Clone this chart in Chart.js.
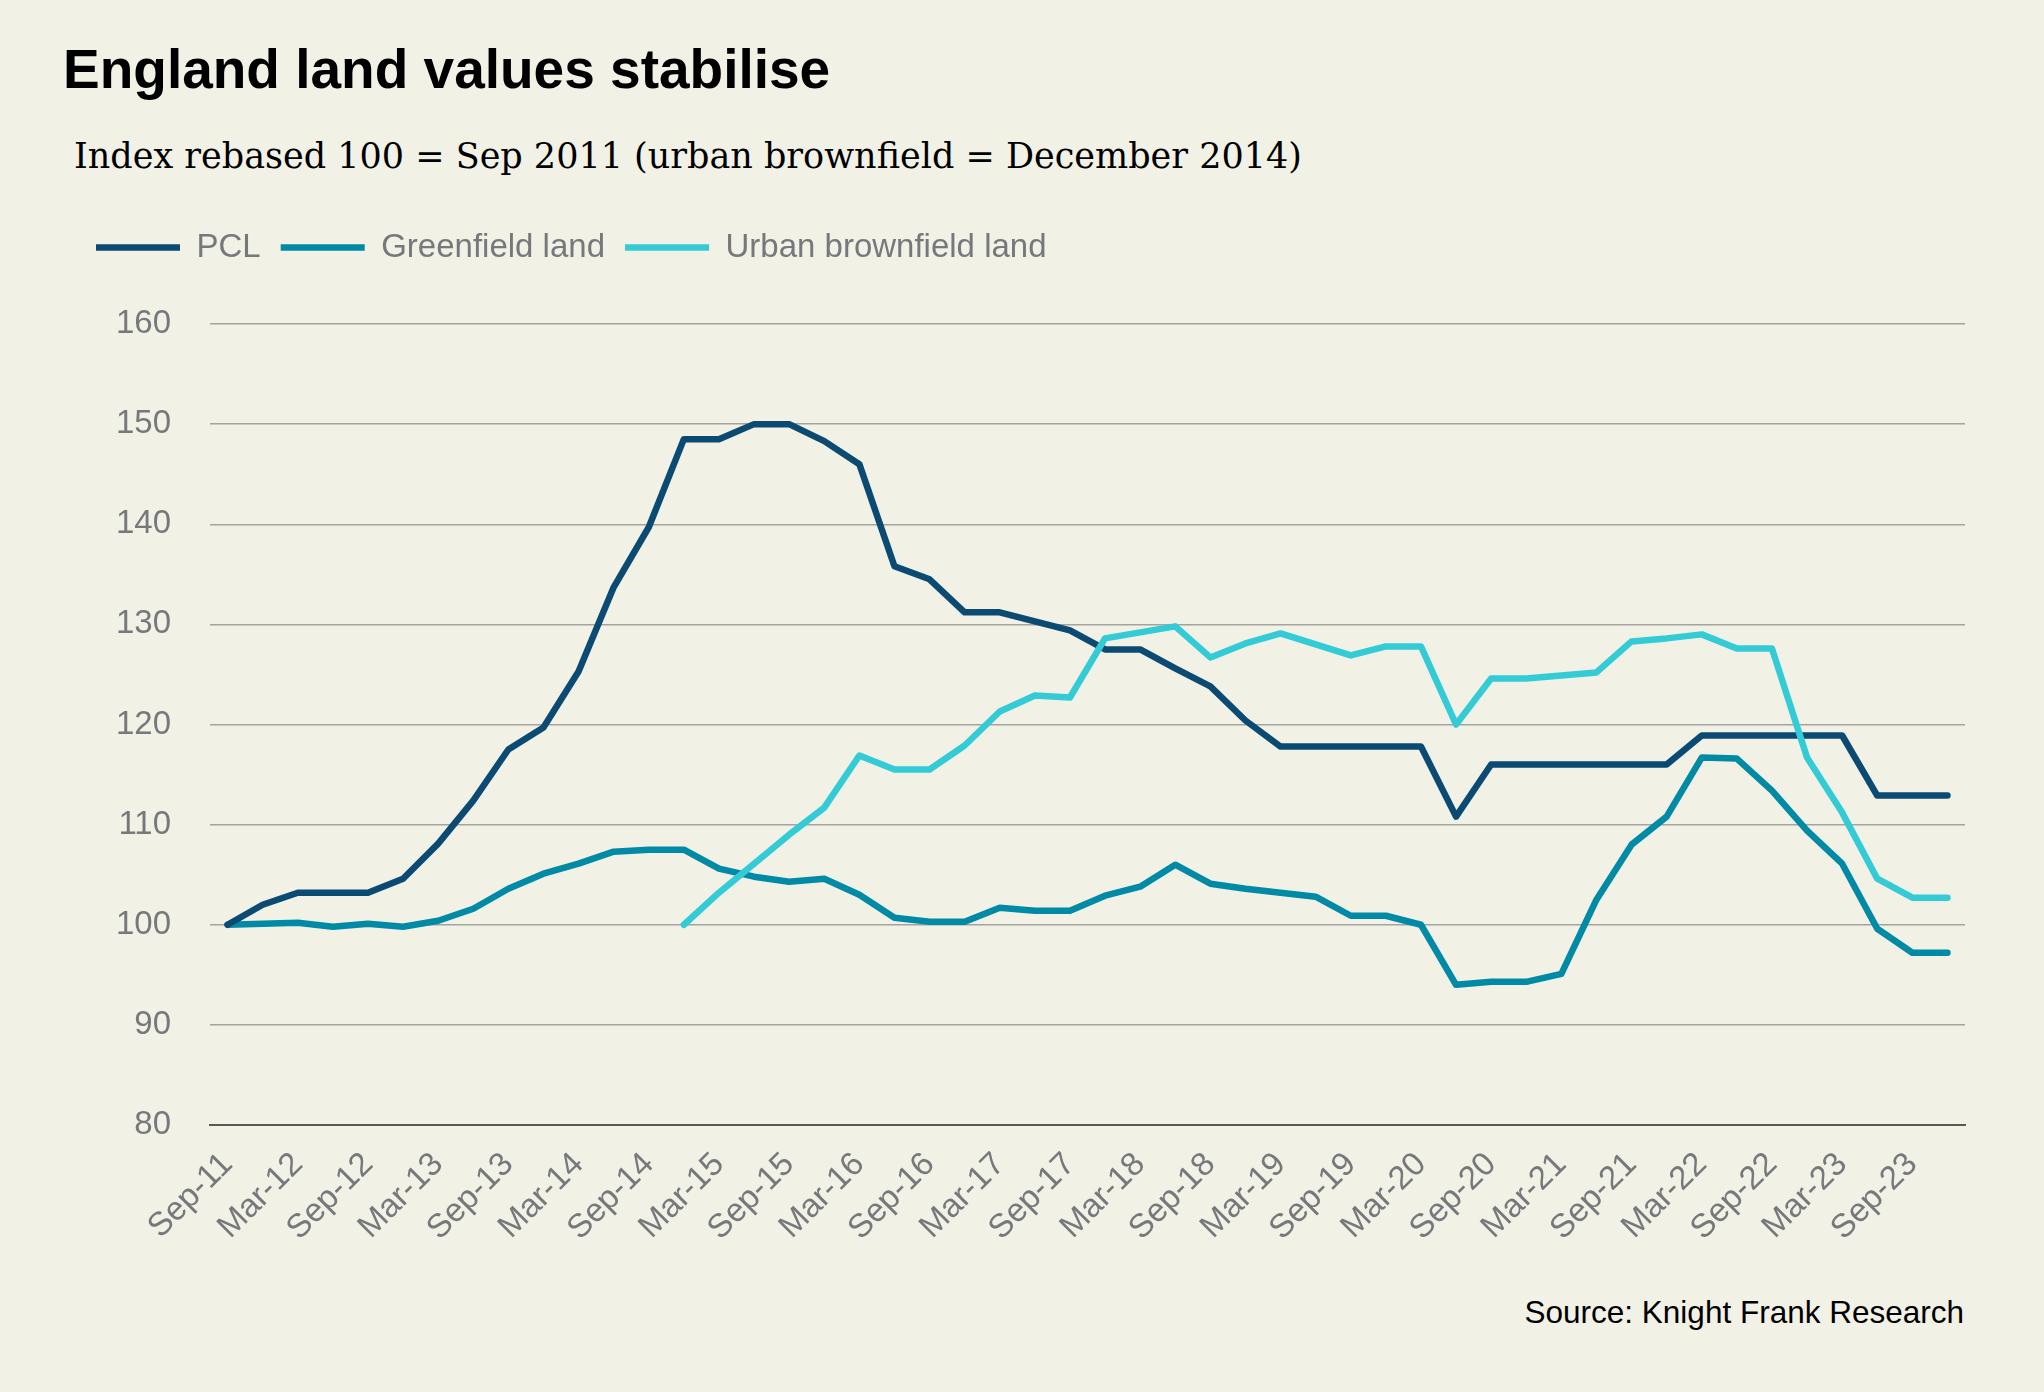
<!DOCTYPE html>
<html>
<head>
<meta charset="utf-8">
<script src="https://cdn.jsdelivr.net/npm/chart.js@4.4.1/dist/chart.umd.min.js"></script>
<style>
  html, body { margin: 0; padding: 0; background: #F1F1E6; }
  body { width: 2044px; height: 1392px; position: relative; overflow: hidden; }
  #c { position: absolute; left: 0; top: 0; }
  .txt { position: absolute; white-space: nowrap; line-height: 1; }
  #title { left: 63px; top: 37px; font: bold 55px "Liberation Sans", Arial, sans-serif; color: #000; }
  #subtitle { left: 74px; top: 139px; font-family: "DejaVu Serif", serif; font-size: 35px; color: #000; }
  #source { right: 80px; top: 1294px; font: 31.5px "Liberation Sans", Arial, sans-serif; color: #000; }
</style>
</head>
<body>
<div id="title" class="txt">England land values stabilise</div>
<div id="subtitle" class="txt">Index rebased 100 = Sep 2011 (urban brownfield = December 2014)</div>
<div id="source" class="txt">Source: Knight Frank Research</div>
<canvas id="c" width="2044" height="1392"></canvas>
<script>
// Quarterly labels, Sep-11 .. Dec-23
const quarters = [
  "Sep-11","Dec-11","Mar-12","Jun-12","Sep-12","Dec-12","Mar-13","Jun-13","Sep-13","Dec-13",
  "Mar-14","Jun-14","Sep-14","Dec-14","Mar-15","Jun-15","Sep-15","Dec-15","Mar-16","Jun-16",
  "Sep-16","Dec-16","Mar-17","Jun-17","Sep-17","Dec-17","Mar-18","Jun-18","Sep-18","Dec-18",
  "Mar-19","Jun-19","Sep-19","Dec-19","Mar-20","Jun-20","Sep-20","Dec-20","Mar-21","Jun-21",
  "Sep-21","Dec-21","Mar-22","Jun-22","Sep-22","Dec-22","Mar-23","Jun-23","Sep-23","Dec-23"
];

const pclValues = [
  100, 102.0, 103.2, 103.2, 103.2, 104.6, 108.1, 112.4, 117.5, 119.7,
  125.3, 133.7, 139.7, 148.5, 148.5, 150.0, 150.0, 148.3, 146.0, 135.8,
  134.5, 131.2, 131.2, 130.3, 129.4, 127.5, 127.5, 125.6, 123.8, 120.4,
  117.8, 117.8, 117.8, 117.8, 117.8, 110.8, 116.0, 116.0, 116.0, 116.0,
  116.0, 116.0, 118.9, 118.9, 118.9, 118.9, 118.9, 112.9, 112.9, 112.9
];

const greenfieldValues = [
  100, 100.1, 100.2, 99.8, 100.1, 99.8, 100.4, 101.6, 103.6, 105.1,
  106.1, 107.3, 107.5, 107.5, 105.6, 104.8, 104.3, 104.6, 103.0, 100.7,
  100.3, 100.3, 101.7, 101.4, 101.4, 102.9, 103.8, 106.0, 104.1, 103.6,
  103.2, 102.8, 100.9, 100.9, 100.0, 94.0, 94.3, 94.3, 95.1, 102.5,
  108.0, 110.8, 116.7, 116.6, 113.4, 109.4, 106.1, 99.6, 97.2, 97.2
];

const urbanBrownfieldValues = [
  null, null, null, null, null, null, null, null, null, null,
  null, null, null, 100, 103.2, 106.1, 109.0, 111.7, 116.9, 115.5,
  115.5, 117.9, 121.3, 122.9, 122.7, 128.6, 129.2, 129.8, 126.7, 128.1,
  129.1, 128.0, 126.9, 127.8, 127.8, 120.0, 124.6, 124.6, 124.9, 125.2,
  128.3, 128.6, 129.0, 127.6, 127.6, 116.7, 111.2, 104.6, 102.7, 102.7
];

const seriesNames = ["PCL", "Greenfield land", "Urban brownfield land"];
const yTicks = [80, 90, 100, 110, 120, 130, 140, 150, 160];

const greyText = "#76787C";
const baseFont = "'Liberation Sans', Arial, sans-serif";

function lineDs(label, data, color, order) {
  return {
    label, data,
    xAxisID: 'x', yAxisID: 'y',
    borderColor: color, backgroundColor: color,
    borderWidth: 6.5, pointRadius: 0, pointHoverRadius: 0,
    tension: 0, fill: false, spanGaps: false,
    borderCapStyle: 'round', borderJoinStyle: 'round',
    order
  };
}

new Chart(document.getElementById('c'), {
  type: 'line',
  data: {
    labels: quarters,
    datasets: [
      lineDs(seriesNames[0], pclValues, "#0B4A72", 1),
      lineDs(seriesNames[1], greenfieldValues, "#008AA6", 2),
      lineDs(seriesNames[2], urbanBrownfieldValues, "#33CCD6", 0)
    ]
  },
  options: {
    responsive: false,
    animation: false,
    devicePixelRatio: 1,
    layout: { padding: { top: 211, left: 76, right: 79, bottom: 0 } },
    plugins: {
      tooltip: { enabled: false },
      title: { display: false },
      legend: {
        display: true,
        position: 'top',
        align: 'start',
        labels: {
          usePointStyle: true,
          pointStyle: 'line',
          pointStyleWidth: 84,
          padding: 20,
          color: greyText,
          font: { family: baseFont, size: 33 },
          sort: (a, b) => a.datasetIndex - b.datasetIndex
        }
      }
    },
    scales: {
      x: {
        type: 'category',
        position: 'bottom',
        offset: true,
        grid: { display: false, drawTicks: false },
        border: { display: true, color: "#5A5A5A", width: 2 },
        ticks: {
          autoSkip: false,
          maxRotation: 45,
          minRotation: 45,
          padding: 20,
          color: greyText,
          font: { family: baseFont, size: 33 },
          callback: function(val, idx) { return idx % 2 === 0 ? quarters[idx] : ''; }
        },
        afterFit: (s) => { s.height = 267; }
      },
      spacer: {
        type: 'category',
        position: 'top',
        display: true,
        grid: { display: false, drawTicks: false },
        border: { display: false },
        ticks: { display: false },
        afterFit: (s) => { s.height = 50; }
      },
      y: {
        type: 'linear',
        position: 'left',
        min: yTicks[0],
        max: yTicks[yTicks.length - 1],
        afterBuildTicks: (s) => { s.ticks = yTicks.map(v => ({ value: v })); },
        grid: {
          drawTicks: false,
          color: (ctx) => ctx.tick && ctx.tick.value === 80 ? "#5A5A5A" : "#A3A3A0",
          lineWidth: (ctx) => ctx.tick && ctx.tick.value === 80 ? 2 : 1.4
        },
        border: { display: false },
        ticks: {
          padding: 39,
          color: greyText,
          font: { family: baseFont, size: 33 }
        },
        afterFit: (s) => { s.width = 134; }
      }
    }
  }
});
</script>
</body>
</html>
